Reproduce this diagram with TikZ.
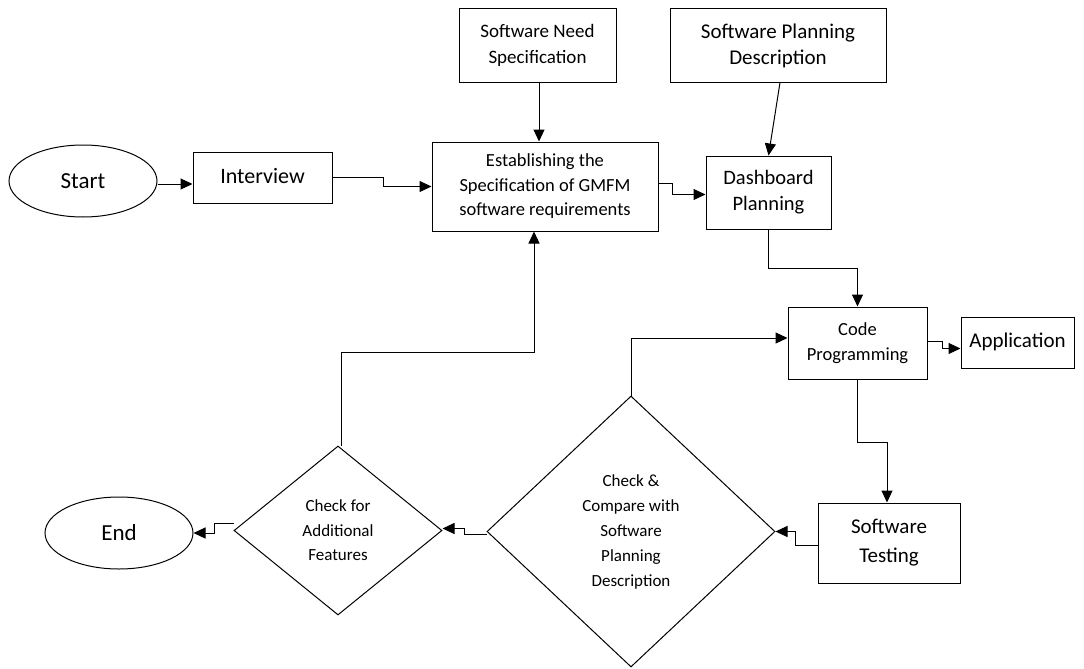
\documentclass[tikz,border=0pt]{standalone}
\usepackage{fontspec}
\setmainfont{Carlito}
\usetikzlibrary{shapes.geometric,arrows.meta}

\tikzset{
  box/.style={draw,line width=1pt,rectangle,align=center,inner sep=2pt},
  oval/.style={draw,line width=1pt,ellipse,inner sep=0pt},
  decide/.style={draw,line width=1pt,diamond,align=center,inner sep=0pt},
  arr/.style={line width=1pt,-{Triangle[length=12pt,width=11pt]}}
}

\begin{document}
\begin{tikzpicture}[x=1pt,y=-1pt]
\useasboundingbox (0,0) rectangle (1084,669);
% terminals
\node[oval,minimum width=148pt,minimum height=72pt,font=\fontsize{23}{26}\selectfont] (start) at (83,181) {Start};
\node[oval,minimum width=148pt,minimum height=72pt,font=\fontsize{23}{26}\selectfont] (endn) at (119,533) {End};
% process boxes
\node[box,minimum width=139pt,minimum height=51pt,font=\fontsize{22}{25}\selectfont] (interview) at (262.5,177.5) {\raisebox{3pt}{Interview}};
\node[box,minimum width=226pt,minimum height=89pt,font=\fontsize{18.5}{24.5}\selectfont] (estab) at (545,186.5) {Establishing the\\Specification of GMFM\\software requirements};
\node[box,minimum width=157pt,minimum height=73pt,font=\fontsize{19}{26}\selectfont] (need) at (537.5,45.5) {Software Need\\Specification};
\node[box,minimum width=216pt,minimum height=73pt,font=\fontsize{21}{26}\selectfont] (plandesc) at (778,45.5) {Software Planning\\Description};
\node[box,minimum width=125pt,minimum height=73pt,font=\fontsize{20.5}{26}\selectfont] (dash) at (768.5,192.5) {Dashboard\\Planning};
\node[box,minimum width=139pt,minimum height=72pt,font=\fontsize{18.5}{25}\selectfont] (code) at (857.5,343) {Code\\Programming};
\node[box,minimum width=113pt,minimum height=51pt,font=\fontsize{21}{25}\selectfont] (app) at (1017.5,342.5) {\raisebox{4pt}{Application}};
\node[box,minimum width=142pt,minimum height=80pt,font=\fontsize{21}{29}\selectfont] (test) at (889,543) {Software\\Testing};
% decisions
\node[decide,minimum width=288pt,minimum height=271pt,font=\fontsize{17}{25}\selectfont] (cmp) at (631,531.5) {Check \&\\Compare with\\Software\\Planning\\Description};
\node[decide,minimum width=208pt,minimum height=169pt,font=\fontsize{17}{24.5}\selectfont] (addl) at (338,530.5) {Check for\\Additional\\Features};
% connectors
\draw[arr] ([yshift=-3pt]start.east) -- ([yshift=-3pt]start.east -| interview.west);
\draw[arr] (interview.east) -- ++(51,0) |- (estab.west);
\draw[arr] ([xshift=1.5pt]need.south) -- ([xshift=1.5pt]need.south |- estab.north);
\draw[arr] ([xshift=2pt]plandesc.south) -- (dash.north);
\draw[arr] ([yshift=3pt]estab.east) -- ++(14,0) |- ([yshift=-2pt]dash.west);
\draw[arr] (dash.south) -- ++(0,39) -| (code.north);
\draw[arr] ([yshift=2pt]code.east) -- ++(15,0) |- ([yshift=-6pt]app.west);
\draw[arr] (code.south) -- ++(0,63) -| ([xshift=-2pt]test.north);
\draw[arr] ([yshift=-2pt]test.west) -- ++(-22,0) |- (cmp.east);
\draw[arr] (cmp.north) |- ([yshift=5pt]code.west);
\draw[arr] ([yshift=-3pt]cmp.west) -- ++(-22,0) |- ([yshift=2pt]addl.east);
\draw[arr] ([yshift=7pt]addl.west) -- ++(-19,0) |- (endn.east);
\draw[arr] ([xshift=3pt]addl.north) -- ++(0,-93) -| ([xshift=-11pt]estab.south);
\end{tikzpicture}
\end{document}
